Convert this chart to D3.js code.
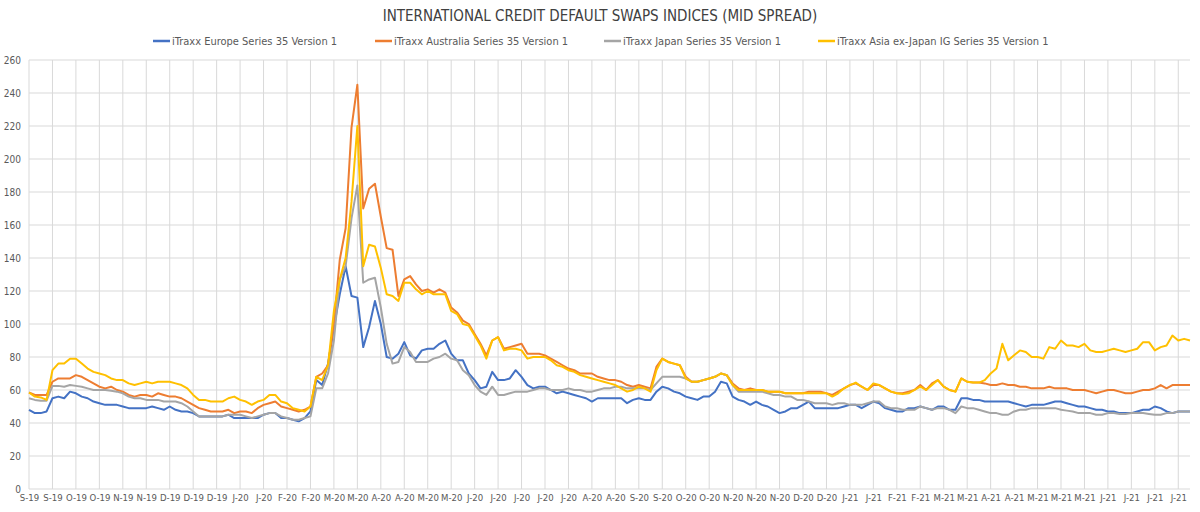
<!DOCTYPE html>
<html>
<head>
<meta charset="utf-8">
<style>
  body { margin: 0; background: #fff; }
  text { font-family: "Liberation Sans Narrow", "DejaVu Sans Condensed", "Roboto", sans-serif; fill: #595959; }
  .grid line { stroke: #d9d9d9; stroke-width: 1; }
  .axis .domain { display: none; }
  .axis line { display: none; }
  .series { fill: none; stroke-width: 2; stroke-linejoin: round; }
</style>
</head>
<body>
<script src="https://d3js.org/d3.v7.min.js"></script>
<div class="chart"></div>
<script>
// tick labels, one every 4 points
var tickLabels = ["S-19","S-19","O-19","O-19","N-19","N-19","D-19","D-19","D-19","J-20",
  "J-20","F-20","F-20","M-20","M-20","A-20","A-20","M-20","M-20","J-20",
  "J-20","J-20","J-20","J-20","A-20","A-20","S-20","S-20","O-20","O-20",
  "N-20","N-20","N-20","D-20","D-20","J-21","J-21","F-21","F-21","M-21",
  "M-21","A-21","A-21","M-21","M-21","M-21","J-21","J-21","J-21","J-21"];
var pointsPerLabel = 4;

var seriesNames = ["iTraxx Europe Series 35 Version 1", "iTraxx Australia Series 35 Version 1",
  "iTraxx Japan Series 35 Version 1", "iTraxx Asia ex-Japan IG Series 35 Version 1"];
var seriesColors = ["#4472c4", "#ed7d31", "#a5a5a5", "#ffc000"];

var europe = [48,46,46,47,55,56,55,59,58,56, 55,53,52,51,51,51,50,49,49,49,
  49,50,49,48,50,48,47,47,46,44, 44,44,44,44,45,43,43,43,43,43,
  45,46,46,43,43,42,41,43,47,66, 63,76,98,118,135,117,116,86,98,114,
  100,80,79,82,89,81,79,84,85,85, 88,90,82,78,78,70,66,61,62,71,
  66,66,67,72,68,63,61,62,62,60, 58,59,58,57,56,55,53,55,55,55,
  55,55,52,54,55,54,54,59,62,61, 59,58,56,55,54,56,56,59,65,64,
  56,54,53,51,53,51,50,48,46,47, 49,49,51,53,49,49,49,49,49,50,
  51,51,49,51,53,52,49,48,47,47, 49,49,50,49,48,50,50,48,48,55,
  55,54,54,53,53,53,53,53,52,51, 50,51,51,51,52,53,53,52,51,50,
  50,49,48,48,47,47,46,46,46,47, 48,48,50,49,47,46,47,47,47];

var australia = [58.5,57,57,57,65,67,67,67,69,68, 66,64,62,61,62,60,59,57,56,57,
  57,56,58,57,56,56,55,53,51,49, 48,47,47,47,48,46,47,47,46,49,
  51,52,53,50,49,48,47,48,50,68, 70,75,100,139,158,219,245,170,182,185,
  165,146,145,117,127,129,124,120,121,119, 121,119,110,107,102,100,94,88,81,90,
  92,85,86,87,88,82,82,82,81,79, 77,75,73,72,70,70,70,68,67,66,
  66,65,63,62,63,62,61,74,79,77, 76,75,68,65,65,66,67,68,70,69,
  64,61,60,61,60,60,59,59,59,58, 58,58,58,59,59,59,58,57,59,61,
  63,64,62,60,63,63,61,59,58,58, 59,60,63,60,64,66,62,60,59,67,
  65,64.5,64.5,64,63,63,64,63,63,62, 62,61,61,61,62,61,61,61,60,60,
  60,59,58,59,60,60,59,58,58,59, 60,60,61,63,61,63,63,63,63];

var japan = [55,54,53.5,53.5,62.5,62.5,62,63,62.5,62, 61,60,60,60,59.5,59,58,56,55,55,
  54,54,54,53,53,53,52,50,47,44, 44,44,44,44,45,45,45,44,43,44,
  45,46,46,44,43,42,42,43,44,61, 61,70,90,127,135,164,184,125,127,128,
  110,88,76,77,86,83,77,77,77,79, 80,82,79,78,72,69,63,59,57,62,
  57,57,58,59,59,59,60,61,61,60, 60,60,61,60,60,59,59,60,61,61,
  62,62,61,61,61,61,60,64,68,68, 68,68,67,65,65,66,67,68,70,69,
  63,59,59,59,59,59,58,57,57,56, 56,54,54,53,52,52,52,51,52,52,
  51,51,51,52,53,53,50,49,49,48, 48,48,50,49,48,49,49,48,46,50,
  49,49,48,47,46,46,45,45,47,48, 48,49,49,49,49,49,48,47.5,47,46,
  46,46,45,45,46,46,45.5,45.5,46,46, 46,45.5,45,45,46,46,47,47,47];

var asiaExJapan = [58.5,56,55.5,54,72,76,76,79,79,76, 73,71,70,69,67,66,66,64,63,64,
  65,64,65,65,65,64,63,61,57,54, 54,53,53,53,55,56,54,53,51,53,
  54,57,57,53,52,49,48,47,50,68, 66,75,108,127,140,174,220,135,148,147,
  134,118,117,114,125,125,121,118,120,118, 118,118,108,106,100,99,93,87,79,90,
  92,84,85,85,84,79,80,80,80,78, 75,74,72,71,69,68,67,66,65,64,
  63,61,59,60,62,61,59,72,79,77, 76,75,67,65,65,66,67,68,70,69,
  63,60,60,60,60,60,59,59,59,58, 58,58,58,58,58,58,58,56,58,61,
  63,64.5,62,60,64,63,61,59,58,57.5, 58,60,62,60,63,66,62,60,59,67,
  65,64.5,64.5,66,70,73,88,78,81,84, 83,80,80,79,86,85,90,87,87,86,
  88,84,83,83,84,85,84,83,84,85, 89,89,84,86,87,93,90,91,90];

var yTicks = d3.range(0, 261, 20);

var width = 1200, height = 512;
var plot = {left: 29, right: 1190, top: 60, bottom: 489};

var allSeries = [europe, australia, japan, asiaExJapan];

var xScale = d3.scaleLinear()
    .domain([0, europe.length - 1])
    .range([plot.left, plot.right]);

var yScale = d3.scaleLinear()
    .domain([0, 260])
    .range([plot.bottom, plot.top]);

var svg = d3.select(".chart").append("svg")
    .attr("width", width)
    .attr("height", height);

var tickIdx = tickLabels.map(function(d, i) { return i * pointsPerLabel; });

// grid
var grid = svg.append("g").attr("class", "grid");
grid.selectAll(".h").data(yTicks).enter().append("line")
    .attr("x1", plot.left).attr("x2", plot.right)
    .attr("y1", function(d) { return yScale(d); })
    .attr("y2", function(d) { return yScale(d); });
grid.selectAll(".v").data(tickIdx).enter().append("line")
    .attr("x1", function(d) { return xScale(d); })
    .attr("x2", function(d) { return xScale(d); })
    .attr("y1", plot.top).attr("y2", plot.bottom);

// axes
svg.append("g")
    .attr("class", "axis")
    .attr("transform", "translate(" + plot.left + ",0)")
    .call(d3.axisLeft(yScale).tickValues(yTicks).tickSize(0).tickPadding(8))
    .selectAll("text").style("font-size", "10px").style("fill", "#595959");

svg.append("g")
    .attr("class", "axis")
    .attr("transform", "translate(0," + plot.bottom + ")")
    .call(d3.axisBottom(xScale).tickValues(tickIdx).tickSize(0).tickPadding(5)
        .tickFormat(function(d) { return tickLabels[d / pointsPerLabel]; }))
    .selectAll("text").style("font-size", "9.5px").style("fill", "#595959");

// lines
var line = d3.line()
    .x(function(d, i) { return xScale(i); })
    .y(function(d) { return yScale(d); });

svg.selectAll(".series")
    .data(allSeries)
    .enter().append("path")
    .attr("class", "series")
    .attr("stroke", function(d, i) { return seriesColors[i]; })
    .attr("d", line);

// title
svg.append("text")
    .attr("x", 600).attr("y", 21)
    .attr("text-anchor", "middle")
    .style("font-size", "15px")
    .style("fill", "#404040")
    .text("INTERNATIONAL CREDIT DEFAULT SWAPS INDICES (MID SPREAD)");

// legend
var legendX = [153, 375, 604, 818];
var legend = svg.selectAll(".legend")
    .data(seriesNames)
    .enter().append("g")
    .attr("transform", function(d, i) { return "translate(" + legendX[i] + ",41)"; });
legend.append("line")
    .attr("x1", 0).attr("x2", 17)
    .attr("stroke", function(d, i) { return seriesColors[i]; })
    .attr("stroke-width", 2.5);
legend.append("text")
    .attr("x", 19).attr("y", 4)
    .style("font-size", "11px")
    .text(function(d) { return d; });
</script>
</body>
</html>
